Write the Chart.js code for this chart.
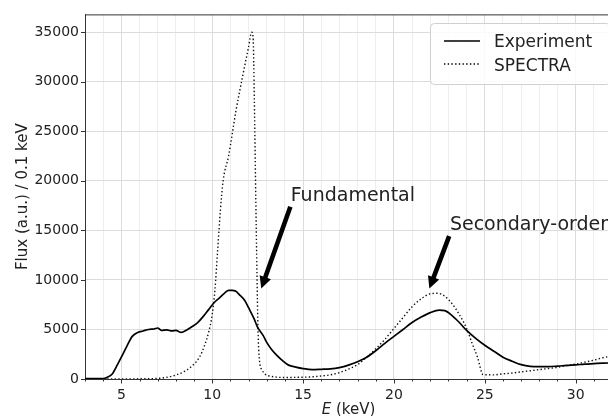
<!DOCTYPE html>
<html>
<head>
<meta charset="utf-8">
<script src="https://cdn.jsdelivr.net/npm/chart.js@4"></script>
<style>
html,body{margin:0;padding:0;overflow:hidden;background:#fff;width:608px;height:416px;}
#wrap{width:620px;height:416px;}
</style>
</head>
<body>
<div id="wrap"><canvas id="c" width="620" height="416"></canvas></div>
<script>
// ---- data ----
const expE = [3.0,3.5,4.0,4.2,4.5,4.8,5.0,5.3,5.6,5.9,6.2,6.5,6.8,7.0,7.2,7.5,7.8,8.0,8.3,8.6,8.9,9.2,9.5,9.8,10.1,10.4,10.7,10.9,11.1,11.3,11.5,11.8,12.0,12.3,12.5,12.8,13.0,13.3,13.6,13.9,14.2,14.6,15.0,15.5,16.0,16.5,17.0,17.5,18.0,18.5,19.0,19.5,20.0,20.5,21.0,21.5,22.0,22.5,22.8,23.2,23.6,24.0,24.5,25.0,25.5,26.0,26.5,27.0,27.5,28.0,28.5,29.0,29.5,30.0,30.5,31.0,31.5,32.0];
const expFlux = [30,30,50,150,500,1500,2200,3300,4300,4700,4850,5000,5050,5150,4900,4950,4850,4900,4700,4950,5300,5700,6300,7000,7700,8200,8700,8950,8950,8850,8500,7900,7200,6100,5200,4400,3700,2900,2300,1800,1400,1200,1050,950,980,1020,1150,1400,1750,2200,2850,3600,4300,5000,5700,6250,6700,6950,6900,6400,5700,4900,4100,3400,2800,2200,1800,1450,1280,1250,1250,1300,1380,1430,1500,1550,1600,1620];

const specE = [3.0,6.0,7.0,7.5,8.0,8.5,9.0,9.3,9.6,9.8,10.0,10.15,10.3,10.45,10.6,10.9,11.3,11.7,12.0,12.17,12.25,12.32,12.4,12.46,12.52,12.6,12.75,12.9,13.2,13.6,14.0,14.7,15.5,16.0,16.5,17.0,17.5,18.0,18.5,19.0,19.5,20.0,20.5,21.0,21.5,22.0,22.4,22.8,23.2,23.6,24.0,24.3,24.6,24.9,25.5,26.0,26.5,27.0,27.5,28.0,28.5,29.0,29.5,30.0,30.5,31.0,31.5,32.0];
const specFlux = [0,20,60,170,400,800,1500,2200,3500,4700,6500,9000,13000,17000,20000,22500,27000,30800,33500,35000,34500,28000,18000,11000,5000,1900,900,500,280,180,150,170,220,300,420,650,1000,1450,2200,3050,4000,5100,6200,7300,8100,8600,8650,8350,7600,6500,5100,3600,2200,450,420,520,600,720,830,950,1060,1180,1350,1500,1700,1900,2150,2300];

const xTickLabels = [5,10,15,20,25,30];
const yTicks = [0,5000,10000,15000,20000,25000,30000,35000];
const seriesNames = ['Experiment','SPECTRA'];

// annotations: [text, textE, textFlux, tailE, tailFlux, tipE, tipFlux]
const annTexts = ['Fundamental','Secondary-order'];
const annTextE = [14.32, 23.08];
const annTextFlux = [17980, 15020];
const annTailE = [14.30, 23.04];
const annTailFlux = [17380, 14420];
const annTipE = [12.70, 21.95];
const annTipFlux = [9130, 9130];

const FONT = '"DejaVu Sans", sans-serif';
const INK = '#222';

function pts(xs, ys){ return xs.map((x,i)=>({x:x, y:ys[i]})); }

const decor = {
  id:'decor',
  afterDraw(chart){
    const ctx = chart.ctx, a = chart.chartArea;
    const xs = chart.scales.x, ys = chart.scales.y;
    ctx.save();
    // top spine
    ctx.strokeStyle = '#333'; ctx.lineWidth = 1;
    ctx.beginPath(); ctx.moveTo(a.left, a.top+0.5); ctx.lineTo(a.right, a.top+0.5); ctx.stroke();
    // x ticks marks (major + minor)
    for (let v = 3; v <= 32; v++) {
      const px = Math.round(xs.getPixelForValue(v)) + 0.5;
      const len = (v % 5 === 0) ? 4.5 : 2.5;
      ctx.beginPath(); ctx.moveTo(px, a.bottom); ctx.lineTo(px, a.bottom + len); ctx.stroke();
    }
    // y tick marks
    yTicks.forEach(v => {
      const py = Math.round(ys.getPixelForValue(v)) + 0.5;
      ctx.beginPath(); ctx.moveTo(a.left - 4, py); ctx.lineTo(a.left, py); ctx.stroke();
    });
    // annotations
    ctx.fillStyle = INK;
    ctx.font = '19px ' + FONT;
    ctx.textBaseline = 'alphabetic';
    ctx.textAlign = 'left';
    annTexts.forEach((t,i) => {
      ctx.fillText(t, xs.getPixelForValue(annTextE[i]), ys.getPixelForValue(annTextFlux[i]));
      const x0 = xs.getPixelForValue(annTailE[i]), y0 = ys.getPixelForValue(annTailFlux[i]);
      const x1 = xs.getPixelForValue(annTipE[i]), y1 = ys.getPixelForValue(annTipFlux[i]);
      const dx = x1-x0, dy = y1-y0, L = Math.hypot(dx,dy);
      const ux = dx/L, uy = dy/L, nx = -uy, ny = ux;
      const hl = 12, hw = 6, sw = 2.3;
      const bx = x1 - ux*hl, by = y1 - uy*hl;
      ctx.fillStyle = '#000';
      ctx.beginPath();
      ctx.moveTo(x0 + nx*sw, y0 + ny*sw);
      ctx.lineTo(bx + nx*sw, by + ny*sw);
      ctx.lineTo(bx + nx*hw, by + ny*hw);
      ctx.lineTo(x1, y1);
      ctx.lineTo(bx - nx*hw, by - ny*hw);
      ctx.lineTo(bx - nx*sw, by - ny*sw);
      ctx.lineTo(x0 - nx*sw, y0 - ny*sw);
      ctx.closePath();
      ctx.fill();
      ctx.fillStyle = INK;
    });
    // legend
    const lx = 430, ly = 23, lw = 180, lh = 61, r = 4;
    ctx.fillStyle = 'rgba(255,255,255,0.85)';
    ctx.strokeStyle = '#d0d0d0';
    ctx.lineWidth = 1;
    ctx.beginPath();
    ctx.moveTo(lx+r+0.5, ly+0.5);
    ctx.arcTo(lx+lw+0.5, ly+0.5, lx+lw+0.5, ly+lh+0.5, r);
    ctx.arcTo(lx+lw+0.5, ly+lh+0.5, lx+0.5, ly+lh+0.5, r);
    ctx.arcTo(lx+0.5, ly+lh+0.5, lx+0.5, ly+0.5, r);
    ctx.arcTo(lx+0.5, ly+0.5, lx+lw+0.5, ly+0.5, r);
    ctx.closePath();
    ctx.fill(); ctx.stroke();
    ctx.strokeStyle = '#000';
    ctx.lineWidth = 1.6;
    ctx.beginPath(); ctx.moveTo(444, 41); ctx.lineTo(480, 41); ctx.stroke();
    ctx.lineWidth = 1.4;
    ctx.setLineDash([1.4,2.3]);
    ctx.beginPath(); ctx.moveTo(444, 64); ctx.lineTo(480, 64); ctx.stroke();
    ctx.setLineDash([]);
    ctx.fillStyle = INK;
    ctx.font = '17px ' + FONT;
    ctx.fillText(seriesNames[0], 494, 46.5);
    ctx.fillText(seriesNames[1], 494, 70.5);
    // axis titles
    ctx.font = '15px ' + FONT;
    ctx.textBaseline = 'alphabetic';
    const cx = (a.left + a.right)/2;
    ctx.font = 'italic 15px ' + FONT;
    const wE = ctx.measureText('E').width;
    ctx.font = '15px ' + FONT;
    const wR = ctx.measureText(' (keV)').width;
    const sx = cx - (wE + wR)/2;
    ctx.font = 'italic 15px ' + FONT;
    ctx.fillText('E', sx, 413.5);
    ctx.font = '15px ' + FONT;
    ctx.fillText(' (keV)', sx + wE, 413.5);
    ctx.translate(26.5, (a.top + a.bottom)/2);
    ctx.rotate(-Math.PI/2);
    ctx.textAlign = 'center';
    ctx.fillText('Flux (a.u.) / 0.1 keV', 0, 0);
    ctx.restore();
  }
};

new Chart(document.getElementById('c'), {
  type: 'line',
  data: {
    datasets: [
      { label: seriesNames[0], data: pts(expE, expFlux), borderColor: '#000', borderWidth: 1.7,
        pointRadius: 0, fill: false, cubicInterpolationMode: 'monotone' },
      { label: seriesNames[1], data: pts(specE, specFlux), borderColor: '#111', borderWidth: 1.4,
        borderDash: [1.4, 2.3], pointRadius: 0, fill: false, cubicInterpolationMode: 'monotone' }
    ]
  },
  options: {
    responsive: false,
    animation: false,
    devicePixelRatio: 1,
    layout: { padding: { top: 14, right: 2, left: 0, bottom: 0 } },
    plugins: { legend: { display: false }, tooltip: { enabled: false } },
    scales: {
      x: {
        type: 'linear', min: 3, max: 32,
        afterFit(s){ s.height = 37; },
        ticks: {
          stepSize: 1, includeBounds: false, autoSkip: false, maxRotation: 0, padding: 8,
          color: INK, font: { family: FONT, size: 14 },
          callback: (v) => xTickLabels.includes(v) ? String(v) : ''
        },
        grid: {
          drawTicks: false,
          color: (c) => (c.tick && c.tick.value % 5 === 0) ? '#dcdcdc' : '#eeeeee',
          lineWidth: 1
        },
        border: { display: true, color: '#333', width: 1 }
      },
      y: {
        min: 0, max: 36800,
        afterFit(s){ s.width = 85; },
        afterBuildTicks(s){ s.ticks = yTicks.map(v => ({value: v})); },
        ticks: {
          padding: 6, color: INK, font: { family: FONT, size: 14 },
          callback: (v) => String(v)
        },
        grid: { drawTicks: false, color: '#dcdcdc', lineWidth: 1 },
        border: { display: true, color: '#333', width: 1 }
      }
    }
  },
  plugins: [decor]
});
</script>
</body>
</html>
